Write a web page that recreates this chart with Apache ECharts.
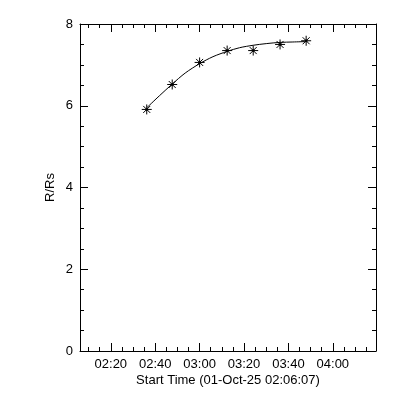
<!DOCTYPE html>
<html>
<head>
<meta charset="utf-8">
<script src="https://cdn.jsdelivr.net/npm/echarts@6/dist/echarts.min.js"></script>
<style>html,body{margin:0;padding:0;background:#fff}#c{width:400px;height:400px}</style>
</head>
<body>
<div id="c"></div>
<script>
// ---- data ----
const startTime = "02:06:07";
const pointTimes = ["02:36:11", "02:47:39", "03:00:00", "03:12:24", "03:24:08", "03:36:14", "03:47:59"];
const pointValues = [5.91, 6.52, 7.06, 7.35, 7.35, 7.50, 7.59];
const fitTimes = ["02:36:11", "02:42:00", "02:47:39", "02:53:30", "03:00:00", "03:06:00", "03:12:24", "03:18:00", "03:24:08", "03:30:00", "03:36:14", "03:42:00", "03:47:59"];
const fitValues = [5.95, 6.25, 6.53, 6.80, 7.03, 7.20, 7.33, 7.42, 7.48, 7.52, 7.55, 7.56, 7.57];
const xTickLabels = ["02:20", "02:40", "03:00", "03:20", "03:40", "04:00"];
const yTickValues = [0, 2, 4, 6, 8];

function toMin(s) {
  const p = s.split(":").map(Number);
  return p[0] * 60 + p[1] + (p[2] || 0) / 60;
}
function fmt(m) {
  const r = Math.round(m);
  const h = Math.floor(r / 60), mm = r % 60;
  return String(h).padStart(2, "0") + ":" + String(mm).padStart(2, "0");
}
const xMin = toMin(startTime);
const xMax = xMin + 8000 / 60;
const majorX = xTickLabels.map(toMin);
const minorX = [];
for (let m = Math.ceil(xMin / 5) * 5; m <= xMax; m += 5) minorX.push(m);

const font = "Liberation Sans";
const black = "#000";

function xAx(pos, ticks, len, showLine, showLabel) {
  return {
    type: "value", position: pos, min: xMin, max: xMax,
    axisLine: { show: showLine, onZero: false, lineStyle: { color: black, width: 1 } },
    axisTick: { show: true, inside: true, length: len, customValues: ticks, lineStyle: { color: black, width: 1 } },
    axisLabel: showLabel ? { show: true, customValues: ticks, formatter: fmt, color: black, fontFamily: font, fontSize: 13, margin: 7 } : { show: false },
    splitLine: { show: false },
    name: showLabel ? "Start Time (01-Oct-" + "25 " + startTime + ")" : "",
    nameLocation: "middle", nameGap: 23, nameMoveOverlap: false,
    nameTextStyle: { color: black, fontFamily: font, fontSize: 13 }
  };
}
function yAx(pos, showLabel) {
  return {
    type: "value", position: pos, min: yTickValues[0], max: yTickValues[yTickValues.length - 1], interval: 2,
    axisLine: { show: true, lineStyle: { color: black, width: 1 } },
    axisTick: { show: true, inside: true, length: 8, lineStyle: { color: black, width: 1 } },
    minorTick: { show: true, splitNumber: 4, length: 4, lineStyle: { color: black, width: 1 } },
    axisLabel: showLabel ? { show: true, color: black, fontFamily: font, fontSize: 13, margin: 7 } : { show: false },
    splitLine: { show: false },
    name: showLabel ? "R/Rs" : "",
    nameLocation: "middle", nameGap: 23, nameMoveOverlap: false,
    nameTextStyle: { color: black, fontFamily: font, fontSize: 13 }
  };
}

const chart = echarts.init(document.getElementById("c"), null, { renderer: "canvas" });
chart.setOption({
  animation: false,
  backgroundColor: "#fff",
  grid: { left: 80, right: 24, top: 24, bottom: 49, containLabel: false },
  xAxis: [
    xAx("bottom", majorX, 8, true, true),
    xAx("bottom", minorX, 4, false, false),
    xAx("top", majorX, 8, true, false),
    xAx("top", minorX, 4, false, false)
  ],
  yAxis: [yAx("left", true), yAx("right", false)],
  series: [
    {
      type: "line", xAxisIndex: 0, yAxisIndex: 0,
      data: fitTimes.map((t, i) => [toMin(t), fitValues[i]]),
      smooth: 0.3, showSymbol: false, symbol: "none",
      lineStyle: { color: black, width: 1 }
    },
    {
      type: "scatter", xAxisIndex: 0, yAxisIndex: 0,
      data: pointTimes.map((t, i) => [toMin(t), pointValues[i]]),
      symbol: "path://M0,5L10,5M5,0L5,10M1.5,1.5L8.5,8.5M1.5,8.5L8.5,1.5",
      symbolSize: 10,
      itemStyle: { color: "rgba(0,0,0,0)", borderColor: black, borderWidth: 1, opacity: 1 }
    },
    {
      type: "scatter", xAxisIndex: 0, yAxisIndex: 0,
      data: pointTimes.map((t, i) => [toMin(t), pointValues[i]]),
      symbol: "circle", symbolSize: 3,
      itemStyle: { color: black }
    }
  ]
});
</script>
</body>
</html>
